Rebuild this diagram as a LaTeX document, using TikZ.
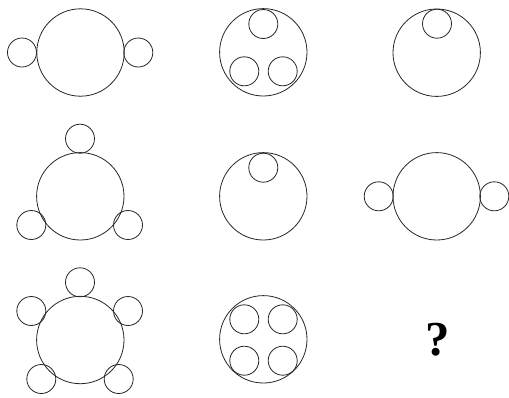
\documentclass[tikz,border=0pt]{standalone}
\usepackage{fontspec}
\setmainfont{Liberation Serif}
\begin{document}
\begin{tikzpicture}[x=1bp,y=-1bp,
  big/.style={circle,draw=black!85,line width=0.8bp,minimum size=87.4bp,inner sep=0pt},
  small/.style={circle,draw=black!85,line width=0.8bp,minimum size=29bp,inner sep=0pt},
  qmark/.style={inner sep=0pt,font=\fontsize{49}{52}\selectfont\bfseries}]
\useasboundingbox (0,0) rectangle (509,397);
% panel 1
\node[big] (b1) at (80.5,52.5) {};
\node[small] (s1a) at (22,52.5) {};
\node[small] (s1b) at (138.3,52.5) {};
% panel 2
\node[big] (b2) at (263.3,52.3) {};
\node[small] (s2a) at (263.3,24) {};
\node[small] (s2b) at (244.3,71.3) {};
\node[small] (s2c) at (282.7,71.3) {};
% panel 3
\node[big] (b3) at (436.7,52.7) {};
\node[small] (s3a) at (437,23.7) {};
% panel 4
\node[big] (b4) at (80.3,196.3) {};
\node[small] (s4a) at (80,138.7) {};
\node[small] (s4b) at (31.3,225) {};
\node[small] (s4c) at (128,225) {};
% panel 5
\node[big] (b5) at (263.3,196.3) {};
\node[small] (s5a) at (263.3,167.7) {};
% panel 6
\node[big] (b6) at (436.7,196.3) {};
\node[small] (s6a) at (378.7,196.3) {};
\node[small] (s6b) at (494.3,196.3) {};
% panel 7
\node[big] (b7) at (80.3,340) {};
\node[small] (s7a) at (80,282.3) {};
\node[small] (s7b) at (31.3,311) {};
\node[small] (s7c) at (128,311) {};
\node[small] (s7d) at (41.3,379) {};
\node[small] (s7e) at (118.7,379) {};
% panel 8
\node[big] (b8) at (263.3,339.3) {};
\node[small] (s8a) at (244.3,319.3) {};
\node[small] (s8b) at (282.7,319.3) {};
\node[small] (s8c) at (244.3,360.7) {};
\node[small] (s8d) at (282.7,360.7) {};
% panel 9
\node[qmark] (q) at (438,339.5) {?};
\end{tikzpicture}
\end{document}
